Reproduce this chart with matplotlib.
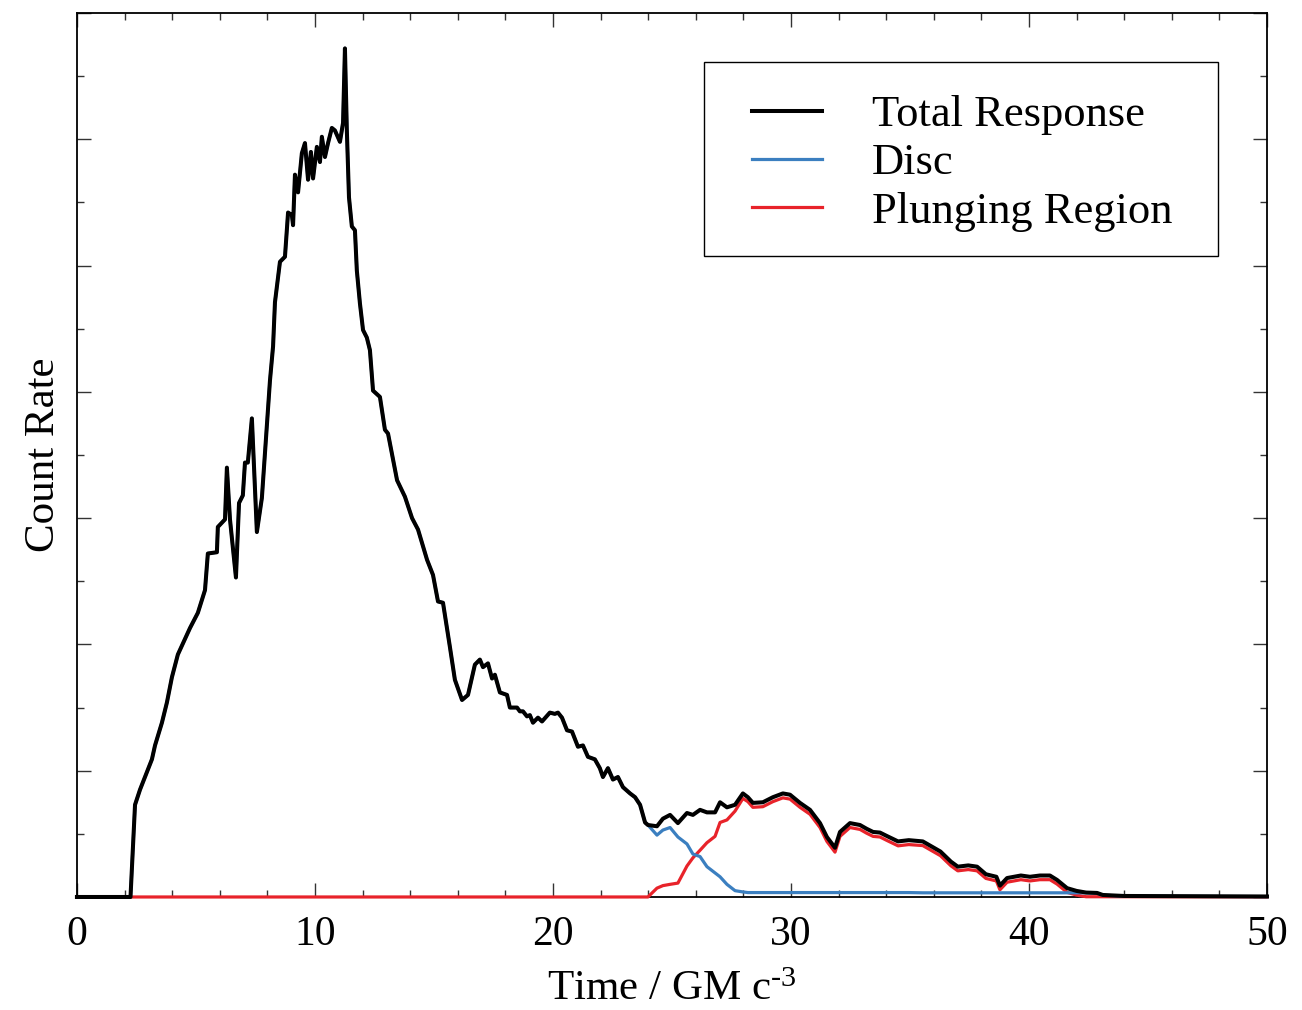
import numpy as np
import matplotlib
matplotlib.use("Agg")
import matplotlib.pyplot as plt
from matplotlib.patches import Rectangle

plt.rcParams['font.family'] = ['Liberation Serif', 'DejaVu Serif']
plt.rcParams['mathtext.fontset'] = 'custom'
plt.rcParams['mathtext.rm'] = 'Liberation Serif'
plt.rcParams['mathtext.default'] = 'regular'

# early part: everything comes from the disc, plunging region is zero
t_early = [0.0, 2.25, 2.44, 2.65, 2.86, 3.15, 3.28, 3.57, 3.78, 3.99, 4.24, 4.75, 5.08, 5.38,
           5.50, 5.88, 5.92, 6.22, 6.30, 6.43, 6.68, 6.81, 6.97, 7.06, 7.18, 7.35, 7.56, 7.77,
           8.11, 8.24, 8.32, 8.53, 8.74, 8.87, 9.03, 9.08, 9.16, 9.29, 9.45, 9.58, 9.71, 9.83,
           9.92, 10.08, 10.21, 10.29, 10.42, 10.55, 10.71, 10.84, 11.05, 11.18, 11.26, 11.34,
           11.43, 11.55, 11.68, 11.76, 11.89, 12.02, 12.18, 12.31, 12.44, 12.73, 12.94, 13.07,
           13.45, 13.78, 14.08, 14.33, 14.71, 14.96, 15.17, 15.38, 15.67, 15.88, 16.18, 16.43,
           16.72, 16.93, 17.06, 17.27, 17.44, 17.56, 17.77, 18.07, 18.19, 18.49, 18.61, 18.74,
           18.91, 19.03, 19.16, 19.37, 19.54, 19.87, 20.08, 20.21, 20.38, 20.59, 20.80, 21.05,
           21.26, 21.47, 21.76, 21.97, 22.10, 22.31, 22.52, 22.73, 22.94, 23.24, 23.45, 23.66,
           23.87]
disc_early = [0.0, 0.0, 0.73, 0.85, 0.95, 1.09, 1.20, 1.38, 1.54, 1.74, 1.92, 2.13, 2.25, 2.43,
              2.72, 2.73, 2.93, 2.99, 3.40, 2.99, 2.53, 3.12, 3.18, 3.44, 3.44, 3.79, 2.89, 3.16,
              4.09, 4.36, 4.71, 5.03, 5.07, 5.42, 5.40, 5.32, 5.72, 5.58, 5.89, 5.97, 5.68, 5.90,
              5.69, 5.94, 5.82, 6.02, 5.86, 5.97, 6.09, 6.07, 5.98, 6.13, 6.72, 6.07,
              5.54, 5.31, 5.28, 4.96, 4.70, 4.49, 4.43, 4.33, 4.01, 3.96, 3.70, 3.67,
              3.30, 3.17, 3.00, 2.91, 2.67, 2.55, 2.34, 2.33, 1.98, 1.72, 1.56, 1.60,
              1.84, 1.88, 1.82, 1.85, 1.73, 1.76, 1.62, 1.60, 1.50, 1.50, 1.47, 1.47,
              1.43, 1.44, 1.38, 1.42, 1.39, 1.46, 1.45, 1.46, 1.42, 1.32, 1.31, 1.19,
              1.20, 1.11, 1.09, 1.02, 0.95, 1.02, 0.93, 0.95, 0.87, 0.82, 0.79, 0.73,
              0.59]

# late part: both components
t_late = [23.99, 24.37, 24.62, 24.92, 25.25, 25.63, 25.88, 26.18, 26.47, 26.81, 27.02, 27.31,
          27.65, 27.98, 28.19, 28.40, 28.82, 29.24, 29.66, 29.96, 30.38, 30.80, 31.22, 31.51,
          31.85, 32.06, 32.48, 32.90, 33.18, 33.45, 33.74, 34.06, 34.50, 34.95, 35.54, 35.91,
          36.28, 36.72, 37.01, 37.45, 37.82, 38.19, 38.63, 38.78, 39.08, 39.66, 40.04, 40.46,
          40.88, 41.18, 41.60, 42.00, 42.40, 42.86, 43.10, 44.00, 50.00]
disc_late = [0.57, 0.49, 0.53, 0.55, 0.475, 0.42, 0.34, 0.32, 0.24, 0.19, 0.16, 0.10,
             0.05, 0.04, 0.035, 0.035, 0.035, 0.035, 0.035, 0.035, 0.035, 0.035, 0.035, 0.035,
             0.035, 0.035, 0.035, 0.035, 0.035, 0.035, 0.035, 0.035, 0.035, 0.035, 0.033, 0.033,
             0.033, 0.033, 0.033, 0.033, 0.033, 0.033, 0.033, 0.033, 0.033, 0.033, 0.033, 0.033,
             0.033, 0.033, 0.033, 0.033, 0.033, 0.030, 0.014, 0.006, 0.003]
plunge_late = [0.0, 0.07, 0.09, 0.10, 0.11, 0.245, 0.31, 0.37, 0.43, 0.48, 0.59, 0.61,
               0.68, 0.78, 0.755, 0.71, 0.715, 0.755, 0.785, 0.775, 0.71, 0.655, 0.55, 0.44,
               0.355, 0.48, 0.55, 0.535, 0.505, 0.48, 0.475, 0.445, 0.405, 0.415, 0.407, 0.367,
               0.327, 0.247, 0.207, 0.217, 0.207, 0.147, 0.127, 0.057, 0.117, 0.137, 0.127, 0.137,
               0.137, 0.102, 0.037, 0.015, 0.002, 0.002, 0.002, 0.002, 0.001]

time = np.array(t_early + t_late)
disc = np.array(disc_early + disc_late)
plunge = np.array([0.0] * len(t_early) + plunge_late)
total = disc + plunge

fig = plt.figure(figsize=(13.02, 10.10), dpi=100)
ax = fig.add_axes([0.0591, 0.1119, 0.914, 0.8752])

l_red, = ax.plot(time, plunge, color='#e8232a', lw=2.3, label='Plunging Region',
                 zorder=3, clip_on=False)
l_blue, = ax.plot(time, disc, color='#3b7fc0', lw=2.3, label='Disc',
                  zorder=3.1, clip_on=False)
l_black, = ax.plot(time, total, color='black', lw=2.9, label='Total Response',
                   zorder=3.2, clip_on=False)

ax.set_xlim(0, 50)
ax.set_ylim(0, 7)
ax.set_xticks(np.arange(0, 51, 10))
ax.set_xticks(np.arange(0, 51, 2), minor=True)
ax.set_yticks(np.arange(0, 7.1, 1))
ax.set_yticks(np.arange(0, 7.1, 0.5), minor=True)
ax.set_yticklabels([])
ax.tick_params(which='both', direction='in', top=True, right=True, width=1.0, color='#333333')
ax.tick_params(which='major', length=10, labelsize=30, pad=13)
ax.tick_params(which='minor', length=5)
for s in ax.spines.values():
    s.set_linewidth(1.3)

ax.set_xlabel('Time / GM c$^{\u2010 3}$', fontsize=31, labelpad=12)
ax.set_ylabel('Count Rate', fontsize=31, labelpad=-3)

# legend box drawn separately so the padding matches the original
ax.add_patch(Rectangle((0.527, 0.725), 0.432, 0.2196, transform=ax.transAxes,
                       facecolor='white', edgecolor='black', lw=1.0, zorder=4))
leg = ax.legend(handles=[l_black, l_blue, l_red], loc='upper left',
                bbox_to_anchor=(0.567, 0.907), borderaxespad=0, borderpad=0,
                fontsize=32, frameon=False, handlelength=1.58,
                handletextpad=1.13, labelspacing=0.18)
leg.set_zorder(5)

plt.savefig('out.png', dpi=100)
